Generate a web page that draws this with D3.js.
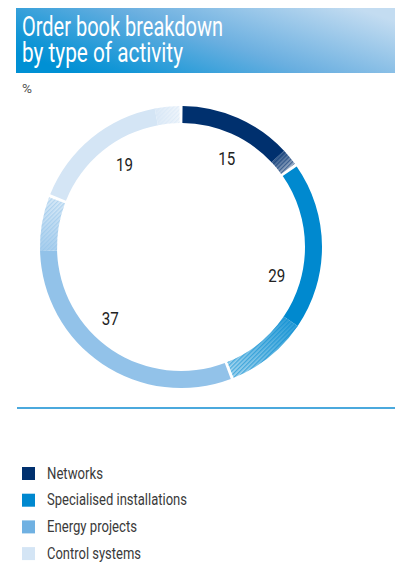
<!DOCTYPE html>
<html>
<head>
<meta charset="utf-8">
<script src="https://cdn.jsdelivr.net/npm/d3@7"></script>
<style>
  body { margin: 0; background: #fff; }
  text { font-family: Roboto, "Noto Sans", "Liberation Sans", sans-serif; }
</style>
</head>
<body>
<svg id="chart" width="403" height="562"></svg>
<script>
// Order book by type of activity, in percent
const categories = ["Networks", "Specialised installations", "Energy projects", "Control systems"];
const shares = [15, 29, 37, 19];
const unitLabel = "%";
const titleLines = ["Order book breakdown", "by type of activity"];

// Styling
const ringColors   = ["#00306e", "#0089cf", "#92c2e9", "#d4e5f5"];
const legendColors = ["#00306e", "#0088cf", "#70b1e2", "#d4e5f5"];
const fadeShare    = [0.13, 0.33, 0.17, 0.15];   // hatched tail of each slice
const titleWidths  = [201, 161];                 // condensed set widths
const legendWidths = [56, 140, 90, 94];

const svg = d3.select("#chart");
const defs = svg.append("defs");

// Title banner
const bannerGrad = defs.append("linearGradient").attr("id", "banner")
  .attr("x1", 0).attr("y1", 0.7).attr("x2", 1).attr("y2", 0.2);
[["0", "#0090d4"], ["0.12", "#1396d6"], ["0.5", "#6aafe0"], ["1", "#c3dcf1"]]
  .forEach(([o, c]) => bannerGrad.append("stop").attr("offset", o).attr("stop-color", c));
svg.append("rect").attr("x", 16).attr("y", 8).attr("width", 379).attr("height", 65).attr("fill", "url(#banner)");
svg.selectAll("text.title").data(titleLines).join("text").attr("class", "title")
  .attr("x", 22).attr("y", (d, i) => 36 + i * 26)
  .attr("fill", "#fff").attr("font-size", 27)
  .attr("textLength", (d, i) => titleWidths[i]).attr("lengthAdjust", "spacingAndGlyphs")
  .text(d => d);

svg.append("text").attr("x", 22).attr("y", 93).attr("font-size", 13).attr("fill", "#555")
  .attr("textLength", 10).attr("lengthAdjust", "spacingAndGlyphs").text(unitLabel);

// Donut
const cx = 181, cy = 247, rOuter = 141, rInner = 124;
const g = svg.append("g").attr("transform", `translate(${cx},${cy})`);
const pie = d3.pie().sort(null).padAngle(0.022);
const arcs = pie(shares);
const arc = d3.arc().innerRadius(rInner).outerRadius(rOuter);
const rMid = (rInner + rOuter) / 2;
const pt = (a, r) => [r * Math.sin(a), -r * Math.cos(a)];

arcs.forEach((d, i) => {
  const a0 = d.startAngle + d.padAngle / 2;
  const a1 = d.endAngle - d.padAngle / 2;
  const aF = a1 - (a1 - a0) * fadeShare[i];
  const col = ringColors[i];

  // solid body
  g.append("path").attr("d", arc({startAngle: a0, endAngle: aF + 0.002, padAngle: 0})).attr("fill", col);

  // fading hatched tail
  const [x0, y0] = pt(aF, rMid), [x1, y1] = pt(a1, rMid);
  const gr = defs.append("linearGradient").attr("id", "fade" + i)
    .attr("gradientUnits", "userSpaceOnUse")
    .attr("x1", x0).attr("y1", y0).attr("x2", x1).attr("y2", y1);
  gr.append("stop").attr("offset", 0).attr("stop-color", col).attr("stop-opacity", 0.8);
  gr.append("stop").attr("offset", 1).attr("stop-color", col).attr("stop-opacity", 0.35);

  const pat = defs.append("pattern").attr("id", "hatch" + i)
    .attr("patternUnits", "userSpaceOnUse").attr("width", 3).attr("height", 3)
    .attr("patternTransform", "rotate(45)");
  pat.append("rect").attr("width", 1.3).attr("height", 3).attr("fill", col).attr("fill-opacity", 0.55);

  const tail = arc({startAngle: aF, endAngle: a1, padAngle: 0});
  g.append("path").attr("d", tail).attr("fill", "#fff");
  g.append("path").attr("d", tail).attr("fill", `url(#fade${i})`);
  g.append("path").attr("d", tail).attr("fill", `url(#hatch${i})`);
});

// Value labels
const labelArc = d3.arc().innerRadius(100).outerRadius(100);
g.selectAll("text.val").data(arcs).join("text").attr("class", "val")
  .attr("transform", d => `translate(${labelArc.centroid(d)})`)
  .attr("text-anchor", "middle").attr("dy", "0.36em")
  .attr("font-size", 19).attr("fill", "#222")
  .attr("textLength", 17).attr("lengthAdjust", "spacingAndGlyphs")
  .text(d => d.data);

// Divider
svg.append("line").attr("x1", 17).attr("x2", 395).attr("y1", 408).attr("y2", 408)
  .attr("stroke", "#4ba9dd").attr("stroke-width", 2);

// Legend
const leg = svg.selectAll("g.leg").data(categories).join("g").attr("class", "leg")
  .attr("transform", (d, i) => `translate(22,${473 + i * 26.7})`);
leg.append("rect").attr("x", 0).attr("y", -6).attr("width", 13).attr("height", 13)
  .attr("fill", (d, i) => legendColors[i]);
leg.append("text").attr("x", 25).attr("y", 0).attr("dy", "0.36em")
  .attr("font-size", 16).attr("fill", "#3a3a3a")
  .attr("textLength", (d, i) => legendWidths[i]).attr("lengthAdjust", "spacingAndGlyphs")
  .text(d => d);
</script>
</body>
</html>
